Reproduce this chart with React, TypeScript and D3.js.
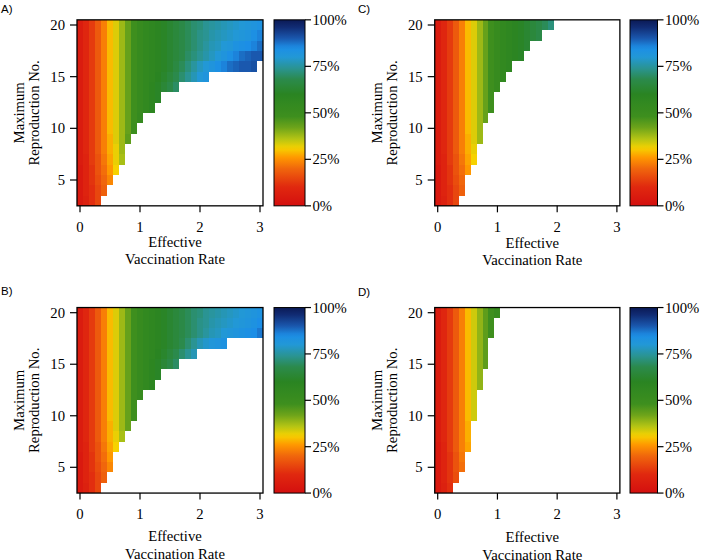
import React from "react";
import * as d3 from "d3";

// grid categories
const xCats = [0, 0.1, 0.2, 0.3, 0.4, 0.5, 0.6, 0.7, 0.8, 0.9, 1.0, 1.1, 1.2, 1.3, 1.4, 1.5, 1.6, 1.7, 1.8, 1.9, 2.0, 2.1, 2.2, 2.3, 2.4, 2.5, 2.6, 2.7, 2.8, 2.9, 3.0];
const rCats = [3, 4, 5, 6, 7, 8, 9, 10, 11, 12, 13, 14, 15, 16, 17, 18, 19, 20];
const xTicks = [0, 1, 2, 3];
const yTicks = [5, 10, 15, 20];
const cbTicks = [0, 25, 50, 75, 100];

// values (%) per row R = 3..20, from x = 0 upward
const panelA = [
  [4, 7, 11, 15],
  [4, 8, 11, 15, 19],
  [4, 8, 12, 16, 20, 24],
  [4, 8, 12, 17, 21, 26, 31],
  [5, 8, 13, 17, 22, 27, 32, 37],
  [5, 9, 13, 18, 23, 28, 32, 38],
  [5, 9, 13, 18, 23, 28, 33, 38, 44],
  [5, 9, 13, 18, 23, 29, 33, 38, 43, 49],
  [5, 9, 13, 18, 23, 29, 33, 38, 43, 48, 53],
  [5, 9, 13, 18, 23, 29, 33, 38, 43, 48, 52, 55, 58],
  [5, 9, 13, 18, 23, 29, 33, 38, 43, 48, 52, 55, 58, 61],
  [5, 9, 13, 18, 23, 29, 33, 38, 43, 48, 52, 55, 58, 61, 64, 67, 70],
  [5, 9, 13, 18, 23, 29, 33, 38, 43, 48, 52, 55, 57, 60, 62, 65, 68, 71, 74, 77, 80, 82],
  [5, 9, 13, 18, 23, 29, 33, 38, 43, 48, 52, 55, 57, 59, 61, 63, 66, 69, 72, 75, 78, 80, 82, 84, 86, 88, 89, 90, 90, 91],
  [5, 9, 13, 18, 23, 29, 33, 38, 43, 48, 52, 55, 57, 59, 61, 63, 65, 67, 70, 72, 74, 76, 78, 80, 82, 84, 86, 88, 89, 90, 90],
  [5, 9, 13, 18, 23, 29, 33, 38, 43, 48, 52, 55, 57, 59, 61, 63, 65, 67, 69, 71, 73, 75, 77, 78, 80, 81, 83, 84, 85, 86, 88],
  [5, 9, 13, 18, 23, 29, 33, 38, 43, 48, 52, 55, 57, 59, 61, 63, 65, 67, 69, 71, 73, 74, 76, 77, 78, 79, 80, 81, 82, 84, 86],
  [5, 9, 13, 18, 23, 29, 33, 38, 43, 48, 52, 55, 57, 59, 61, 63, 65, 67, 69, 71, 72, 74, 75, 76, 77, 78, 79, 80, 81, 82, 83],
];

const panelB = [
  [4, 7, 11, 15],
  [4, 8, 11, 15, 19],
  [4, 8, 12, 16, 20, 24],
  [4, 8, 12, 17, 21, 26],
  [5, 8, 13, 17, 22, 27, 31],
  [5, 9, 13, 18, 23, 28, 32, 37],
  [5, 9, 13, 18, 23, 28, 33, 38, 43],
  [5, 9, 13, 18, 23, 29, 33, 38, 43, 48],
  [5, 9, 13, 18, 23, 29, 33, 38, 43, 48],
  [5, 9, 13, 18, 23, 29, 33, 38, 43, 48, 52],
  [5, 9, 13, 18, 23, 29, 33, 38, 43, 48, 52, 55, 58],
  [5, 9, 13, 18, 23, 29, 33, 38, 43, 48, 52, 55, 58, 61],
  [5, 9, 13, 18, 23, 29, 33, 38, 43, 48, 52, 55, 58, 61, 64, 67, 70],
  [5, 9, 13, 18, 23, 29, 33, 38, 43, 48, 52, 55, 57, 60, 62, 65, 68, 71, 74, 77],
  [5, 9, 13, 18, 23, 29, 33, 38, 43, 48, 52, 55, 57, 59, 61, 63, 65, 68, 71, 74, 77, 79, 81, 82, 83],
  [5, 9, 13, 18, 23, 29, 33, 38, 43, 48, 52, 55, 57, 59, 61, 63, 65, 67, 69, 71, 73, 75, 77, 78, 80, 81, 82, 83, 84, 85, 87],
  [5, 9, 13, 18, 23, 29, 33, 38, 43, 48, 52, 55, 57, 59, 61, 63, 65, 67, 69, 71, 73, 74, 76, 77, 78, 79, 80, 81, 82, 83, 85],
  [5, 9, 13, 18, 23, 29, 33, 38, 43, 48, 52, 55, 57, 59, 61, 63, 65, 67, 69, 71, 72, 74, 75, 76, 77, 78, 79, 80, 81, 82, 83],
];

const panelC = [
  [4, 7, 11, 15],
  [4, 8, 11, 15, 19],
  [4, 8, 12, 16, 20],
  [4, 8, 12, 17, 21, 26],
  [5, 8, 13, 17, 22, 27, 31],
  [5, 9, 13, 18, 23, 28, 32],
  [5, 9, 13, 18, 23, 28, 33, 38],
  [5, 9, 13, 18, 23, 29, 33, 38],
  [5, 9, 13, 18, 23, 29, 33, 38, 43],
  [5, 9, 13, 18, 23, 29, 33, 38, 43, 48],
  [5, 9, 13, 18, 23, 29, 33, 38, 43, 48],
  [5, 9, 13, 18, 23, 29, 33, 38, 43, 48, 52],
  [5, 9, 13, 18, 23, 29, 33, 38, 43, 48, 52, 55],
  [5, 9, 13, 18, 23, 29, 33, 38, 43, 48, 52, 55, 57],
  [5, 9, 13, 18, 23, 29, 33, 38, 43, 48, 52, 55, 57, 59, 61],
  [5, 9, 13, 18, 23, 29, 33, 38, 43, 48, 52, 55, 57, 59, 61, 63],
  [5, 9, 13, 18, 23, 29, 33, 38, 43, 48, 52, 55, 57, 59, 61, 63, 65, 67],
  [5, 9, 13, 18, 23, 29, 33, 38, 43, 48, 52, 55, 57, 59, 61, 63, 65, 67, 69, 72],
];

const panelD = [
  [4, 7, 11],
  [4, 8, 12, 16],
  [4, 8, 12, 17, 21],
  [4, 8, 12, 17, 22],
  [4, 8, 13, 18, 23, 27],
  [5, 9, 13, 18, 23, 28],
  [5, 9, 13, 18, 23, 28],
  [5, 9, 13, 18, 23, 29, 34],
  [5, 9, 13, 18, 23, 29, 34],
  [5, 9, 13, 18, 23, 29, 34],
  [5, 9, 13, 18, 23, 29, 34, 39],
  [5, 9, 13, 18, 23, 29, 34, 39],
  [5, 9, 13, 18, 23, 29, 34, 39, 44],
  [5, 9, 13, 18, 23, 29, 34, 39, 44],
  [5, 9, 13, 18, 23, 29, 34, 39, 44],
  [5, 9, 13, 18, 23, 29, 34, 39, 44, 48],
  [5, 9, 13, 18, 23, 29, 34, 39, 44, 48],
  [5, 9, 13, 18, 23, 29, 34, 39, 44, 48, 52],
];

const colorStops = [0, 0.1, 0.2, 0.26, 0.31, 0.36, 0.42, 0.48, 0.6, 0.68, 0.74, 0.8, 0.85, 0.9, 0.96, 1.0];
const colorList = ["#d40f0f", "#e0280f", "#f0660c", "#ff9800", "#f6d200", "#b4c414", "#6ea41a", "#3e8f1e", "#2a8422", "#2b8a4c", "#2a9493", "#2298d6", "#1c8ee6", "#1a58ae", "#112c74", "#0b1a55"];

const color = d3.scaleLinear<string>().domain(colorStops).range(colorList).interpolate(d3.interpolateRgb).clamp(true);

const layouts = [
  { id: "a", label: "A)", data: panelA, lx: 1, ly: 13, x0: 80, x3: 260, y20: 25, y5: 180, cbX: 274, cbW: 31, xl1: 247, xl2: 264 },
  { id: "c", label: "C)", data: panelC, lx: 358, ly: 13, x0: 437.7, x3: 616.9, y20: 25, y5: 180, cbX: 630, cbW: 27.5, xl1: 248, xl2: 265 },
  { id: "b", label: "B)", data: panelB, lx: 1, ly: 295, x0: 80, x3: 260, y20: 312.7, y5: 467.3, cbX: 274, cbW: 31, xl1: 541, xl2: 559 },
  { id: "d", label: "D)", data: panelD, lx: 358, ly: 296, x0: 437.7, x3: 616.9, y20: 312.7, y5: 467.3, cbX: 630, cbW: 27.5, xl1: 542, xl2: 560 },
];

const serif = "'Liberation Serif', 'Times New Roman', serif";
const FS = 14.7;
const gradOffsets = d3.range(0, 1.0001, 0.02);

function Panel({ p }: { p: (typeof layouts)[number] }) {
  const xs = d3.scaleLinear().domain([0, 3]).range([p.x0, p.x3]);
  const ys = d3.scaleLinear().domain([5, 20]).range([p.y5, p.y20]);
  const left = xs(-0.05), right = xs(3.05), top = ys(20.5), bottom = ys(2.5);
  const cw = xs(0.1) - xs(0);
  const cs = d3.scaleLinear().domain([0, 100]).range([bottom, top]);
  const cx = (left + right) / 2 + 5;
  const cy = (top + bottom) / 2;
  const gid = `grad-${p.id}`;
  return (
    <g>
      <defs>
        <linearGradient id={gid} x1="0" y1="1" x2="0" y2="0">
          {gradOffsets.map((o) => (
            <stop key={o} offset={o} stopColor={color(o)} />
          ))}
        </linearGradient>
      </defs>
      <text x={p.lx} y={p.ly} fontFamily="'Liberation Sans', Arial, sans-serif" fontSize={11.5}>{p.label}</text>
      <g shapeRendering="crispEdges">
        {p.data.map((row, ri) =>
          row.map((v, ci) => {
            const xv = xCats[ci];
            const r = rCats[ri];
            return (
              <rect key={`${ri}-${ci}`} x={xs(xv - 0.05)} y={ys(r + 0.5)} width={cw} height={ys(r - 0.5) - ys(r + 0.5)} fill={color(v / 100)} />
            );
          })
        )}
      </g>
      <rect x={left} y={top} width={right - left} height={bottom - top} fill="none" stroke="#000" strokeWidth={1.3} />
      {xTicks.map((t) => (
        <g key={`xt${t}`}>
          <line x1={xs(t)} x2={xs(t)} y1={bottom} y2={bottom + 6.5} stroke="#000" strokeWidth={1.2} />
          <text x={xs(t)} y={bottom + 26} textAnchor="middle" fontFamily={serif} fontSize={FS}>{t}</text>
        </g>
      ))}
      {yTicks.map((t) => (
        <g key={`yt${t}`}>
          <line x1={left} x2={left - 7} y1={ys(t)} y2={ys(t)} stroke="#000" strokeWidth={1.2} />
          <text x={left - 12} y={ys(t)} dy="0.35em" textAnchor="end" fontFamily={serif} fontSize={FS}>{t}</text>
        </g>
      ))}
      <text x={cx} y={p.xl1} textAnchor="middle" fontFamily={serif} fontSize={FS}>Effective</text>
      <text x={cx} y={p.xl2} textAnchor="middle" fontFamily={serif} fontSize={FS}>Vaccination Rate</text>
      <text transform={`translate(${left - 53},${cy}) rotate(-90)`} textAnchor="middle" fontFamily={serif} fontSize={FS}>Maximum</text>
      <text transform={`translate(${left - 38},${cy}) rotate(-90)`} textAnchor="middle" fontFamily={serif} fontSize={FS}>Reproduction No.</text>
      <rect x={p.cbX} y={top} width={p.cbW} height={bottom - top} fill={`url(#${gid})`} stroke="#000" strokeWidth={1} />
      {cbTicks.map((t) => (
        <g key={`ct${t}`}>
          <line x1={p.cbX + p.cbW} x2={p.cbX + p.cbW + 6} y1={cs(t)} y2={cs(t)} stroke="#000" strokeWidth={1.2} />
          <text x={p.cbX + p.cbW + 7.5} y={cs(t)} dy="0.35em" fontFamily={serif} fontSize={FS}>{`${t}%`}</text>
        </g>
      ))}
    </g>
  );
}

export default function App() {
  return (
    <svg width={702} height={560} style={{ position: "absolute", left: 0, top: 0, background: "#fff" }}>
      <rect x={0} y={0} width={702} height={560} fill="#fff" />
      {layouts.map((p) => (
        <Panel key={p.id} p={p} />
      ))}
    </svg>
  );
}
